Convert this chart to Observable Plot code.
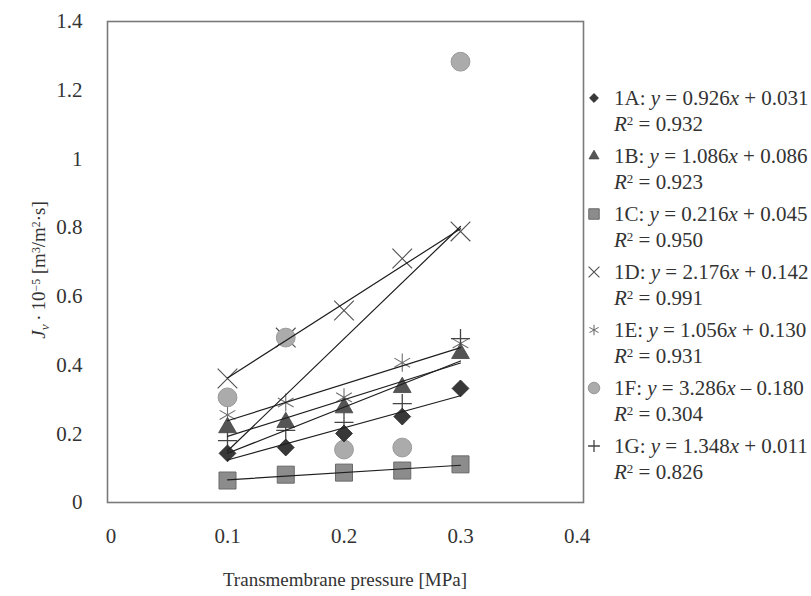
<!DOCTYPE html>
<html><head><meta charset="utf-8">
<script src="https://cdn.jsdelivr.net/npm/d3@7"></script>
<script src="https://cdn.jsdelivr.net/npm/@observablehq/plot@0.6"></script>
<style>
body{margin:0;background:#fff;}
#wrap{position:relative;width:811px;height:596px;font-family:"Liberation Serif","Tinos","Times New Roman","DejaVu Serif",serif;color:#333;overflow:hidden;}
#wrap svg.plot{position:absolute;left:0;top:0;}
.leg{position:absolute;left:614px;font-size:21px;line-height:21px;white-space:nowrap;}
.sup{position:relative;top:-0.42em;font-size:0.62em;}
.sub{position:relative;top:0.3em;font-size:0.7em;}
.sym{position:absolute;}
.title{position:absolute;font-size:19px;white-space:nowrap;line-height:20px;}
</style></head><body><div id="wrap"></div>
<script>
// Data
const pressure = [0.1, 0.15, 0.2, 0.25, 0.3];
const seriesNames = ["1A", "1B", "1C", "1D", "1E", "1F", "1G"];
const flux1A = [0.143, 0.160, 0.201, 0.250, 0.332];
const flux1B = [0.218, 0.233, 0.276, 0.335, 0.434];
const flux1C = [0.064, 0.081, 0.087, 0.093, 0.111];
const flux1D = [0.361, 0.480, 0.559, 0.710, 0.789];
const flux1E = [0.255, 0.291, 0.306, 0.407, 0.463];
const flux1F = [0.306, 0.480, 0.154, 0.160, 1.283];
const flux1G = [0.180, 0.210, 0.233, 0.288, 0.477];
const slopes = [0.926, 1.086, 0.216, 2.176, 1.056, 3.286, 1.348];
const intercepts = [0.031, 0.086, 0.045, 0.142, 0.130, -0.180, 0.011];
const rSquared = ["0.932", "0.923", "0.950", "0.991", "0.931", "0.304", "0.826"];
const xTicks = [0, 0.1, 0.2, 0.3, 0.4];
const yTicks = [0, 0.2, 0.4, 0.6, 0.8, 1, 1.2, 1.4];

const allFlux = [flux1A, flux1B, flux1C, flux1D, flux1E, flux1F, flux1G];
const rows = [];
seriesNames.forEach((s, i) => pressure.forEach((p, j) => rows.push({series: s, p, v: allFlux[i][j]})));

const FONT = "'Liberation Serif','Tinos','Times New Roman','DejaVu Serif',serif";
// styles per series
const styles = {
  "1A": {symbol: "diamond2", r: 7.6, fill: "#383838", stroke: "#222", strokeWidth: 0.8, lr: 4},
  "1B": {symbol: "triangle", r: 6.6, fill: "#555", stroke: "#444", strokeWidth: 0.8, lr: 3.7},
  "1C": {symbol: "square", r: 9.6, fill: "#8c8c8c", stroke: "#6a6a6a", strokeWidth: 1, lr: 5.9},
  "1D": {symbol: "times", r: 9, fill: "none", stroke: "#505050", strokeWidth: 1.1, lr: 5},
  "1E": {symbol: "asterisk", r: 8.6, fill: "none", stroke: "#707070", strokeWidth: 1.1, lr: 5},
  "1F": {symbol: "circle", r: 9.4, fill: "#ababab", stroke: "#999", strokeWidth: 1, lr: 5.8},
  "1G": {symbol: "plus", r: 6.2, fill: "none", stroke: "#444", strokeWidth: 1.3, lr: 3.9}
};
const drawOrder = ["1D", "1E", "1G", "1F", "1C", "1B", "1A"];

const plot = Plot.plot({
  width: 811, height: 596,
  marginLeft: 107, marginRight: 228, marginTop: 21, marginBottom: 94,
  style: {fontFamily: FONT, fontSize: "21px", color: "#333", background: "#fff"},
  x: {domain: [0, 0.4], insetLeft: 3.5, insetRight: 6.5, ticks: xTicks, tickFormat: d => String(d), label: null},
  y: {domain: [0, 1.4], ticks: yTicks, tickFormat: d => String(d), label: null},
  marks: [
    Plot.axisX({ticks: xTicks, tickSize: 0, tickPadding: 26, tickFormat: d => String(d), label: null}),
    Plot.axisY({ticks: yTicks, tickSize: 0, tickPadding: 25, tickFormat: d => String(d), label: null}),
    ...drawOrder.map(s => Plot.dot(rows.filter(d => d.series === s), {
      x: "p", y: "v", symbol: styles[s].symbol, r: styles[s].r,
      fill: styles[s].fill, stroke: styles[s].stroke, strokeWidth: styles[s].strokeWidth
    })),
    Plot.linearRegressionY(rows, {x: "p", y: "v", z: "series", ci: 0, stroke: "#1e1e1e", strokeWidth: 1.2}),
    Plot.frame({stroke: "#7a7a7a", strokeWidth: 1.6})
  ]
});
plot.classList.add("plot");
const wrap = document.getElementById("wrap");
wrap.appendChild(plot);

// Axis titles
const yt = document.createElement("div");
yt.className = "title";
yt.style.left = "40px"; yt.style.top = "270px";
yt.style.transform = "translate(-50%,-50%) rotate(-90deg)";
yt.innerHTML = '<i>J</i><span class="sub"><i>v</i></span>\u2009·\u200910<span class="sup">\u22125</span> [m<span class="sup">3</span>/m<span class="sup">2</span>·s]';
wrap.appendChild(yt);
const xt = document.createElement("div");
xt.className = "title";
xt.style.left = "345px"; xt.style.top = "580px";
xt.style.transform = "translate(-50%,-50%)";
xt.textContent = "Transmembrane pressure [MPa]";
wrap.appendChild(xt);

// Legend
seriesNames.forEach((s, i) => {
  const cy = 98 + 58 * i;
  const st = styles[s];
  const svg = d3.create("svg").attr("class", "sym").attr("width", 20).attr("height", 20)
    .style("left", (594 - 10) + "px").style("top", (cy - 10) + "px");
  const symType = {diamond2: d3.symbolDiamond2, triangle: d3.symbolTriangle, square: d3.symbolSquare,
    times: d3.symbolTimes, asterisk: d3.symbolAsterisk, circle: d3.symbolCircle, plus: d3.symbolPlus}[st.symbol];
  svg.append("path").attr("transform", "translate(10,10)")
    .attr("d", d3.symbol(symType, Math.PI * st.lr * st.lr)())
    .attr("fill", st.fill).attr("stroke", st.stroke).attr("stroke-width", st.strokeWidth);
  wrap.appendChild(svg.node());
  const b = intercepts[i];
  const l1 = document.createElement("div");
  l1.className = "leg"; l1.style.top = (cy - 10.5) + "px";
  l1.innerHTML = `${s}: <i>y</i> = ${slopes[i].toFixed(3)}<i>x</i> ${b < 0 ? "–" : "+"} ${Math.abs(b).toFixed(3)}`;
  wrap.appendChild(l1);
  const l2 = document.createElement("div");
  l2.className = "leg"; l2.style.top = (cy + 15.5) + "px";
  l2.innerHTML = `<i>R</i><span class="sup">2</span> = ${rSquared[i]}`;
  wrap.appendChild(l2);
});
</script></body></html>
